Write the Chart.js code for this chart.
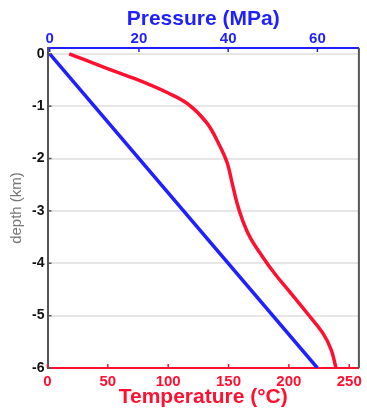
<!DOCTYPE html>
<html>
<head>
<meta charset="utf-8">
<script src="https://cdn.jsdelivr.net/npm/chart.js@4.4.0/dist/chart.umd.min.js"></script>
<style>
  body { margin: 0; background: #fff; }
  canvas { display: block; }
</style>
</head>
<body>
<canvas id="perfil" width="367" height="413"></canvas>
<script>
// temperatura (°C) x profundidade (km)
var tempC = [18, 48, 75, 100, 117, 132, 143, 149, 153, 157, 161.5, 167.5, 178, 189, 199, 215, 228, 235, 239];
var tempDepth = [0, -0.27, -0.5, -0.75, -0.97, -1.32, -1.77, -2.09, -2.47, -2.85, -3.17, -3.49, -3.87, -4.22, -4.5, -4.95, -5.33, -5.65, -6.0];

// pressao hidrostatica (MPa)
var pressMPa = [0, 60];
var pressDepth = [0, -6];

var depthTicks = [0, -1, -2, -3, -4, -5, -6];
var pressTicks = [0, 20, 40, 60];
var tempTicks = [0, 50, 100, 150, 200, 250];

var azul = '#1f1fff';
var vermelho = '#ff1030';
var cinza = '#555';

function pares(xs, ys) {
    return xs.map((v, i) => ({ x: v, y: ys[i] }));
}

// tracinhos para dentro do grafico
var marcas = {
    id: 'marcas',
    afterDraw(chart) {
        var ctx = chart.ctx;
        var a = chart.chartArea;
        ctx.save();
        ctx.lineWidth = 1.5;

        ctx.strokeStyle = azul;
        chart.scales.xP.ticks.forEach(t => {
            var px = chart.scales.xP.getPixelForValue(t.value);
            ctx.beginPath(); ctx.moveTo(px, a.top); ctx.lineTo(px, a.top + 4); ctx.stroke();
        });

        ctx.strokeStyle = vermelho;
        chart.scales.xT.ticks.forEach(t => {
            var px = chart.scales.xT.getPixelForValue(t.value);
            ctx.beginPath(); ctx.moveTo(px, a.bottom); ctx.lineTo(px, a.bottom - 4); ctx.stroke();
        });

        ctx.strokeStyle = cinza;
        chart.scales.y.ticks.forEach(t => {
            var py = chart.scales.y.getPixelForValue(t.value);
            ctx.beginPath(); ctx.moveTo(a.left, py); ctx.lineTo(a.left + 4, py); ctx.stroke();
        });

        // borda direita
        ctx.lineWidth = 2;
        ctx.beginPath(); ctx.moveTo(a.right, a.top); ctx.lineTo(a.right, a.bottom); ctx.stroke();
        ctx.restore();
    }
};

var perfil = new Chart(document.getElementById('perfil').getContext('2d'), {
    type: 'line',
    data: {
        datasets: [{
            label: 'Temperatura',
            data: pares(tempC, tempDepth),
            xAxisID: 'xT',
            yAxisID: 'y',
            indexAxis: 'y',
            borderColor: vermelho,
            borderWidth: 3.5,
            pointRadius: 0,
            tension: 0.4,
            fill: false
        }, {
            label: 'Pressao',
            data: pares(pressMPa, pressDepth),
            xAxisID: 'xP',
            yAxisID: 'y',
            borderColor: azul,
            borderWidth: 3.5,
            pointRadius: 0,
            fill: false
        }]
    },
    options: {
        responsive: false,
        animation: false,
        layout: { padding: { left: 0, right: 3.5, top: 0, bottom: 0 } },
        plugins: {
            legend: { display: false },
            tooltip: { enabled: false }
        },
        scales: {
            xP: {
                type: 'linear',
                position: 'top',
                min: -0.5,
                max: 69.3,
                afterBuildTicks: s => { s.ticks = pressTicks.map(v => ({ value: v })); },
                afterFit: s => { s.height = 48; },
                grid: { drawOnChartArea: false, tickLength: 0 },
                border: { color: azul, width: 2 },
                ticks: {
                    color: azul,
                    padding: 0,
                    maxRotation: 0,
                    font: { family: 'Liberation Sans', size: 15, weight: 'bold' }
                },
                title: {
                    display: true,
                    text: 'Pressure (MPa)',
                    color: azul,
                    padding: { top: 7, bottom: 0 },
                    font: { family: 'Liberation Sans', size: 21, weight: 'bold' }
                }
            },
            xT: {
                type: 'linear',
                position: 'bottom',
                min: 0,
                max: 258,
                afterBuildTicks: s => { s.ticks = tempTicks.map(v => ({ value: v })); },
                afterFit: s => { s.height = 45; },
                grid: { drawOnChartArea: false, tickLength: 0 },
                border: { color: vermelho, width: 2 },
                ticks: {
                    color: vermelho,
                    padding: 5,
                    maxRotation: 0,
                    font: { family: 'Liberation Sans', size: 15, weight: 'bold' }
                },
                title: {
                    display: true,
                    text: 'Temperature (°C)',
                    color: vermelho,
                    padding: { top: 0, bottom: 3 },
                    font: { family: 'Liberation Sans', size: 21, weight: 'bold' }
                }
            },
            y: {
                type: 'linear',
                position: 'left',
                min: -6,
                max: 0.11,
                afterBuildTicks: s => { s.ticks = depthTicks.map(v => ({ value: v })); },
                afterFit: s => { s.width = 47.5; },
                grid: { color: '#e6e6e6', lineWidth: 2, tickLength: 0 },
                border: { color: cinza, width: 2 },
                ticks: {
                    color: '#111',
                    padding: 3,
                    font: { family: 'Liberation Sans', size: 14, weight: 'bold' }
                },
                title: {
                    display: true,
                    text: 'depth (km)',
                    color: '#777',
                    padding: { top: 8, bottom: 0 },
                    font: { family: 'Liberation Sans', size: 15 }
                }
            }
        }
    },
    plugins: [marcas]
});
</script>
</body>
</html>
